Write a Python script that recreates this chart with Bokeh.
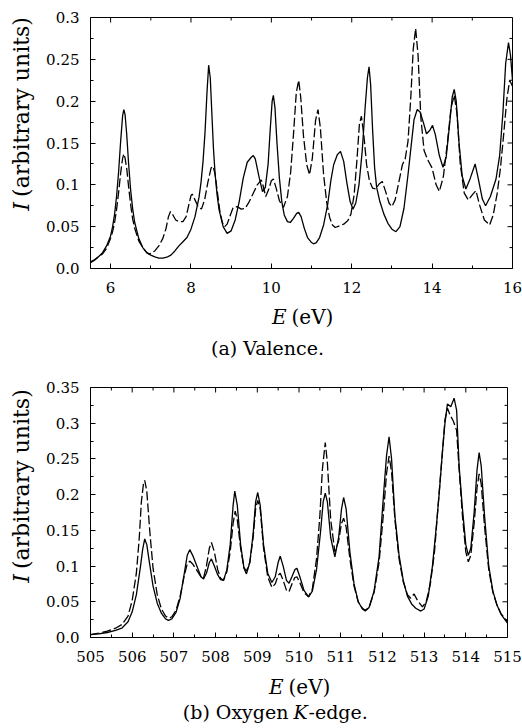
from math import pi
from bokeh.plotting import figure
from bokeh.models import Range1d, FixedTicker
from bokeh.core.properties import value
from bokeh.layouts import column, row
from bokeh.embed import file_html
from bokeh.resources import INLINE

# ---------------- data: (a) valence ----------------
val_solid_E = [5.5, 5.6, 5.7, 5.8, 5.9, 6.0, 6.05, 6.1, 6.15, 6.2, 6.25, 6.3, 6.33, 6.36, 6.4, 6.45, 6.5, 6.55, 6.6, 6.7,
               6.8, 6.9, 7.0, 7.1, 7.2, 7.3, 7.4, 7.5, 7.6, 7.7, 7.8, 7.9, 8.0, 8.1, 8.2, 8.25, 8.3, 8.35, 8.4, 8.44,
               8.48, 8.52, 8.56, 8.6, 8.65, 8.7, 8.8, 8.9, 9.0, 9.1, 9.2, 9.3, 9.4, 9.5, 9.55, 9.6, 9.7, 9.78, 9.85,
               9.92, 9.97, 10.02, 10.05, 10.09, 10.14, 10.2, 10.26, 10.32, 10.4, 10.47, 10.55, 10.63, 10.68, 10.74,
               10.82, 10.9, 11.0, 11.05, 11.12, 11.2, 11.3, 11.4, 11.48, 11.55, 11.64, 11.72, 11.8, 11.88, 11.96,
               12.03, 12.1, 12.18, 12.26, 12.33, 12.39, 12.43, 12.47, 12.52, 12.57, 12.62, 12.7, 12.8, 12.9, 13.0,
               13.1, 13.2, 13.3, 13.4, 13.47, 13.55, 13.63, 13.7, 13.78, 13.86, 13.94, 14.01, 14.08, 14.18, 14.27,
               14.35, 14.43, 14.5, 14.55, 14.6, 14.67, 14.75, 14.84, 14.95, 15.07, 15.15, 15.25, 15.33, 15.45, 15.59,
               15.68, 15.76, 15.83, 15.9, 15.95, 16.0]
val_solid_I = [0.007, 0.010, 0.014, 0.019, 0.027, 0.039, 0.050, 0.065, 0.087, 0.116, 0.152, 0.183, 0.190, 0.184,
               0.161, 0.124, 0.093, 0.071, 0.055, 0.036, 0.025, 0.019, 0.016, 0.014, 0.0125, 0.0125, 0.0135, 0.016,
               0.021, 0.027, 0.032, 0.037, 0.047, 0.062, 0.085, 0.103, 0.128, 0.163, 0.212, 0.243, 0.228, 0.185,
               0.143, 0.113, 0.088, 0.070, 0.050, 0.042, 0.045, 0.058, 0.080, 0.108, 0.127, 0.133, 0.135, 0.131,
               0.108, 0.092, 0.097, 0.125, 0.165, 0.200, 0.207, 0.192, 0.150, 0.108, 0.080, 0.064, 0.056, 0.055,
               0.060, 0.066, 0.067, 0.062, 0.048, 0.037, 0.031, 0.0295, 0.031, 0.037, 0.052, 0.076, 0.105, 0.124,
               0.136, 0.140, 0.128, 0.102, 0.080, 0.071, 0.078, 0.100, 0.140, 0.190, 0.228, 0.241, 0.220, 0.165,
               0.120, 0.097, 0.080, 0.065, 0.054, 0.047, 0.044, 0.050, 0.072, 0.112, 0.143, 0.178, 0.190, 0.187,
               0.175, 0.161, 0.165, 0.171, 0.160, 0.135, 0.121, 0.133, 0.170, 0.205, 0.214, 0.200, 0.150, 0.110,
               0.095, 0.108, 0.125, 0.107, 0.083, 0.075, 0.086, 0.107, 0.135, 0.185, 0.245, 0.270, 0.255, 0.225]

val_dash_E = [5.5, 5.6, 5.7, 5.8, 5.9, 6.0, 6.05, 6.1, 6.15, 6.2, 6.25, 6.3, 6.33, 6.36, 6.4, 6.45, 6.5, 6.55, 6.6, 6.7,
              6.8, 6.9, 6.95, 7.0, 7.1, 7.2, 7.3, 7.38, 7.44, 7.49, 7.55, 7.62, 7.7, 7.8, 7.88, 7.95, 8.0, 8.03, 8.1,
              8.18, 8.26, 8.34, 8.42, 8.5, 8.55, 8.6, 8.66, 8.72, 8.78, 8.84, 8.9, 8.98, 9.05, 9.15, 9.25, 9.35, 9.45,
              9.55, 9.65, 9.75, 9.8, 9.86, 9.93, 10.0, 10.05, 10.12, 10.2, 10.3, 10.4, 10.48, 10.55, 10.62, 10.68,
              10.73, 10.8, 10.88, 10.95, 11.02, 11.1, 11.16, 11.22, 11.3, 11.38, 11.45, 11.52, 11.59, 11.7, 11.8,
              11.9, 11.98, 12.06, 12.13, 12.19, 12.24, 12.3, 12.37, 12.44, 12.52, 12.6, 12.68, 12.76, 12.85, 12.93,
              13.0, 13.08, 13.18, 13.26, 13.33, 13.4, 13.47, 13.53, 13.59, 13.65, 13.72, 13.8, 13.88, 14.0, 14.1,
              14.18, 14.28, 14.38, 14.47, 14.55, 14.62, 14.7, 14.8, 14.9, 15.0, 15.09, 15.18, 15.3, 15.43, 15.52,
              15.62, 15.7, 15.78, 15.86, 15.93, 16.0]
val_dash_I = [0.008, 0.0105, 0.014, 0.0175, 0.024, 0.036, 0.044, 0.055, 0.071, 0.091, 0.114, 0.132, 0.137, 0.132,
              0.120, 0.097, 0.076, 0.059, 0.048, 0.033, 0.025, 0.019, 0.0175, 0.018, 0.021, 0.027, 0.036, 0.048,
              0.062, 0.068, 0.064, 0.058, 0.056, 0.056, 0.062, 0.077, 0.087, 0.089, 0.082, 0.074, 0.071, 0.082,
              0.103, 0.120, 0.122, 0.113, 0.090, 0.068, 0.055, 0.050, 0.053, 0.064, 0.073, 0.074, 0.071, 0.072,
              0.080, 0.090, 0.100, 0.106, 0.098, 0.086, 0.094, 0.105, 0.107, 0.096, 0.081, 0.073, 0.086, 0.115,
              0.160, 0.210, 0.225, 0.205, 0.158, 0.124, 0.112, 0.132, 0.177, 0.190, 0.168, 0.112, 0.078, 0.061,
              0.052, 0.049, 0.051, 0.053, 0.057, 0.065, 0.088, 0.130, 0.172, 0.182, 0.160, 0.124, 0.105, 0.096,
              0.095, 0.101, 0.104, 0.091, 0.078, 0.074, 0.082, 0.105, 0.124, 0.131, 0.152, 0.205, 0.262, 0.287,
              0.255, 0.180, 0.141, 0.131, 0.120, 0.100, 0.092, 0.110, 0.150, 0.192, 0.207, 0.185, 0.125, 0.090,
              0.082, 0.088, 0.093, 0.076, 0.058, 0.052, 0.064, 0.090, 0.120, 0.160, 0.203, 0.225, 0.218]

# ---------------- data: (b) oxygen K-edge ----------------
ox_solid_E = [505.0, 505.2, 505.4, 505.6, 505.75, 505.9, 506.0, 506.1, 506.2, 506.25, 506.3, 506.35, 506.4, 506.5,
              506.6, 506.7, 506.8, 506.87, 506.95, 507.05, 507.15, 507.25, 507.32, 507.38, 507.45, 507.55, 507.65,
              507.71, 507.78, 507.85, 507.9, 507.97, 508.05, 508.12, 508.19, 508.27, 508.35, 508.42, 508.46, 508.52,
              508.6, 508.68, 508.74, 508.82, 508.9, 508.96, 509.01, 509.07, 509.15, 509.25, 509.35, 509.43, 509.5,
              509.55, 509.62, 509.7, 509.76, 509.83, 509.9, 509.95, 510.02, 510.12, 510.23, 510.32, 510.42, 510.52,
              510.58, 510.63, 510.68, 510.76, 510.86, 510.95, 511.02, 511.07, 511.13, 511.22, 511.32, 511.42, 511.52,
              511.59, 511.68, 511.8, 511.92, 512.04, 512.1, 512.16, 512.22, 512.3, 512.4, 512.5, 512.6, 512.7, 512.8,
              512.92, 513.0, 513.1, 513.2, 513.3, 513.36, 513.44, 513.5, 513.56, 513.64, 513.72, 513.78, 513.84,
              513.92, 514.0, 514.06, 514.12, 514.2, 514.27, 514.32, 514.37, 514.45, 514.55, 514.65, 514.75, 514.85,
              515.0]
ox_solid_I = [0.004, 0.005, 0.007, 0.010, 0.013, 0.022, 0.036, 0.060, 0.100, 0.123, 0.138, 0.130, 0.110, 0.072,
              0.048, 0.034, 0.026, 0.024, 0.026, 0.035, 0.055, 0.090, 0.115, 0.123, 0.115, 0.100, 0.085, 0.082,
              0.090, 0.105, 0.110, 0.100, 0.088, 0.081, 0.080, 0.095, 0.130, 0.185, 0.205, 0.185, 0.130, 0.097,
              0.089, 0.105, 0.145, 0.190, 0.203, 0.185, 0.130, 0.090, 0.077, 0.085, 0.105, 0.114, 0.100, 0.080,
              0.076, 0.085, 0.095, 0.097, 0.085, 0.066, 0.057, 0.065, 0.095, 0.150, 0.190, 0.202, 0.190, 0.140,
              0.113, 0.140, 0.180, 0.196, 0.180, 0.120, 0.075, 0.050, 0.040, 0.037, 0.042, 0.065, 0.113, 0.210,
              0.255, 0.281, 0.250, 0.170, 0.115, 0.080, 0.058, 0.047, 0.041, 0.037, 0.040, 0.058, 0.100, 0.160,
              0.200, 0.260, 0.300, 0.327, 0.323, 0.335, 0.318, 0.240, 0.180, 0.130, 0.115, 0.125, 0.175, 0.235,
              0.259, 0.240, 0.170, 0.100, 0.065, 0.045, 0.032, 0.020]

ox_dash_E = [505.0, 505.2, 505.4, 505.6, 505.75, 505.9, 506.0, 506.1, 506.17, 506.22, 506.27, 506.3, 506.35, 506.42,
             506.5, 506.6, 506.7, 506.8, 506.88, 506.95, 507.05, 507.15, 507.25, 507.32, 507.38, 507.45, 507.55,
             507.65, 507.71, 507.78, 507.85, 507.9, 507.97, 508.05, 508.12, 508.19, 508.27, 508.35, 508.42, 508.47,
             508.52, 508.6, 508.68, 508.74, 508.82, 508.9, 508.96, 509.01, 509.07, 509.15, 509.25, 509.35, 509.43,
             509.5, 509.55, 509.62, 509.7, 509.76, 509.83, 509.9, 509.95, 510.02, 510.12, 510.23, 510.32, 510.42,
             510.5, 510.56, 510.63, 510.68, 510.76, 510.86, 510.95, 511.02, 511.07, 511.13, 511.22, 511.32, 511.42,
             511.52, 511.59, 511.68, 511.8, 511.92, 512.02, 512.1, 512.16, 512.22, 512.3, 512.4, 512.5, 512.6,
             512.68, 512.76, 512.84, 512.96, 513.05, 513.15, 513.25, 513.35, 513.44, 513.5, 513.56, 513.62, 513.7,
             513.78, 513.84, 513.92, 514.0, 514.06, 514.12, 514.2, 514.27, 514.32, 514.37, 514.45, 514.55, 514.65,
             514.75, 514.85, 515.0]
ox_dash_I = [0.004, 0.006, 0.009, 0.013, 0.018, 0.030, 0.052, 0.090, 0.140, 0.190, 0.215, 0.220, 0.205, 0.150,
             0.097, 0.060, 0.040, 0.030, 0.027, 0.029, 0.038, 0.058, 0.087, 0.103, 0.107, 0.103, 0.094, 0.085,
             0.083, 0.100, 0.125, 0.133, 0.120, 0.095, 0.083, 0.080, 0.092, 0.120, 0.160, 0.177, 0.165, 0.125,
             0.098, 0.093, 0.105, 0.140, 0.180, 0.192, 0.180, 0.125, 0.085, 0.070, 0.075, 0.087, 0.090, 0.080,
             0.066, 0.064, 0.075, 0.084, 0.085, 0.077, 0.063, 0.057, 0.068, 0.110, 0.170, 0.235, 0.273, 0.245,
             0.165, 0.120, 0.135, 0.160, 0.167, 0.155, 0.110, 0.072, 0.050, 0.041, 0.038, 0.042, 0.063, 0.105,
             0.170, 0.230, 0.254, 0.232, 0.165, 0.110, 0.078, 0.060, 0.055, 0.061, 0.052, 0.043, 0.050, 0.075,
             0.120, 0.195, 0.260, 0.305, 0.321, 0.312, 0.303, 0.290, 0.235, 0.170, 0.120, 0.106, 0.115, 0.160,
             0.210, 0.229, 0.215, 0.155, 0.095, 0.063, 0.045, 0.033, 0.022]

# ---------------- ticks ----------------
val_x_ticks = [6, 8, 10, 12, 14, 16]
val_x_labels = ["6", "8", "10", "12", "14", "16"]
val_x_minor = [7, 9, 11, 13, 15]
val_y_ticks = [0.0, 0.05, 0.1, 0.15, 0.2, 0.25, 0.3]
val_y_labels = ["0.0", "0.05", "0.1", "0.15", "0.2", "0.25", "0.3"]
val_y_minor = [0.025, 0.075, 0.125, 0.175, 0.225, 0.275]

ox_x_ticks = [505, 506, 507, 508, 509, 510, 511, 512, 513, 514, 515]
ox_x_labels = ["505", "506", "507", "508", "509", "510", "511", "512", "513", "514", "515"]
ox_x_minor = [505.5, 506.5, 507.5, 508.5, 509.5, 510.5, 511.5, 512.5, 513.5, 514.5]
ox_y_ticks = [0.0, 0.05, 0.1, 0.15, 0.2, 0.25, 0.3, 0.35]
ox_y_labels = ["0.0", "0.05", "0.1", "0.15", "0.2", "0.25", "0.3", "0.35"]
ox_y_minor = [0.025, 0.075, 0.125, 0.175, 0.225, 0.275, 0.325]

# ---------------- texts ----------------
x_label_parts = [("E", "italic"), ("(eV)", "normal")]
y_label_parts = [("I", "italic"), ("(arbitrary units)", "normal")]
caption_a = [("(a) Valence.", "normal")]
caption_b = [("(b) Oxygen", "normal"), ("K", "italic"), ("-edge.", "normal")]

SERIF = "DejaVu Serif"
LW = 1.3
DASH = "9 3"
MAJ, MIN = 5, 3  # tick lengths (px)
YLAB_W = 40       # width of the strip holding the rotated y label


def style_axis(ax, ticks, minor, labels, standoff):
    ax.ticker = FixedTicker(ticks=ticks, minor_ticks=minor)
    ax.axis_line_color = None
    ax.major_tick_in = MAJ
    ax.major_tick_out = 0
    ax.minor_tick_in = MIN
    ax.minor_tick_out = 0
    ax.major_tick_line_color = "black"
    ax.minor_tick_line_color = "black"
    ax.major_label_overrides = dict(zip(ticks, labels))
    ax.major_label_text_font = SERIF
    ax.major_label_text_font_size = "15px"
    ax.major_label_text_color = "black"
    ax.major_label_standoff = standoff


def main_plot(xr, yr, fw, fh, mbl, mbt, mbr, mbb, xt, xl, xm, yt, yl, ym, sx, sy, dx, dy):
    p = figure(x_range=Range1d(*xr), y_range=Range1d(*yr), frame_width=fw, frame_height=fh,
               min_border_left=mbl, min_border_top=mbt, min_border_right=mbr, min_border_bottom=mbb,
               toolbar_location=None, output_backend="svg")
    p.grid.visible = False
    p.outline_line_color = "black"
    p.outline_line_width = 1
    p.outline_line_alpha = 1
    p.background_fill_color = "white"
    p.border_fill_color = "white"
    style_axis(p.xaxis[0], xt, xm, xl, 13)
    style_axis(p.yaxis[0], yt, ym, yl, 11)

    # mirrored inward ticks on the top and right edges
    ky = (yr[1] - yr[0]) / fh
    kx = (xr[1] - xr[0]) / fw
    p.segment(x0=xt, y0=[yr[1]] * len(xt), x1=xt, y1=[yr[1] - MAJ * ky] * len(xt), line_color="black")
    p.segment(x0=xm, y0=[yr[1]] * len(xm), x1=xm, y1=[yr[1] - MIN * ky] * len(xm), line_color="black")
    p.segment(x0=[xr[1]] * len(yt), y0=yt, x1=[xr[1] - MAJ * kx] * len(yt), y1=yt, line_color="black")
    p.segment(x0=[xr[1]] * len(ym), y0=ym, x1=[xr[1] - MIN * kx] * len(ym), y1=ym, line_color="black")

    p.line(dx, dy, line_color="black", line_width=LW, line_dash=DASH)
    p.line(sx, sy, line_color="black", line_width=LW)
    return p


def text_canvas(w, h):
    t = figure(width=w, height=h, x_range=Range1d(0, w), y_range=Range1d(0, h),
               min_border=0, toolbar_location=None, output_backend="svg",
               x_axis_type=None, y_axis_type=None)
    t.grid.visible = False
    t.outline_line_color = None
    t.background_fill_color = "white"
    t.border_fill_color = "white"
    return t


def put(t, h, text, x, py, align, style, size, angle=0.0):
    # py is measured from the top of the strip
    t.text(x=[x], y=[h - py], text=[text], text_align=align, text_baseline="middle",
           text_font=value(SERIF), text_font_size=value(size), text_font_style=style,
           text_color="black", angle=angle)


def ylabel_strip(h, mid_x, join_y):
    t = text_canvas(YLAB_W, h)
    (i_txt, i_sty), (r_txt, r_sty) = y_label_parts
    put(t, h, i_txt, mid_x, join_y + 3, "right", i_sty, "22px", pi / 2)
    put(t, h, r_txt, mid_x, join_y - 3, "left", r_sty, "22px", pi / 2)
    return t


def bottom_strip(w, h, xlab_anchor, xlab_mid, cap_items, cap_mid):
    t = text_canvas(w, h)
    (e_txt, e_sty), (u_txt, u_sty) = x_label_parts
    put(t, h, e_txt, xlab_anchor - 2, xlab_mid, "right", e_sty, "20px")
    put(t, h, u_txt, xlab_anchor + 3, xlab_mid, "left", u_sty, "20px")
    for (txt, sty), (x, align) in cap_items:
        put(t, h, txt, x, cap_mid, align, sty, "19px")
    return t


# ---- panel (a): main plot 298 px tall, text strip 62 px ----
m1 = main_plot((5.5, 16), (0, 0.3), 422, 251, 90 - YLAB_W, 17, 10, 30,
               val_x_ticks, val_x_labels, val_x_minor, val_y_ticks, val_y_labels, val_y_minor,
               val_solid_E, val_solid_I, val_dash_E, val_dash_I)
y1 = ylabel_strip(298, 21, 216)
b1 = bottom_strip(522, 62, 288, 316 - 298, [(caption_a[0], (267, "center"))], 347 - 298)

# ---- panel (b): main plot 307 px tall (page y 360..667), text strip 61 px ----
m2 = main_plot((505, 515), (0, 0.35), 417, 250, 90 - YLAB_W, 27, 15, 30,
               ox_x_ticks, ox_x_labels, ox_x_minor, ox_y_ticks, ox_y_labels, ox_y_minor,
               ox_solid_E, ox_solid_I, ox_dash_E, ox_dash_I)
y2 = ylabel_strip(307, 21, 586 - 360)
b2 = bottom_strip(522, 61, 285, 686 - 667,
                  [(caption_b[0], (288, "right")), (caption_b[1], (293, "left")), (caption_b[2], (308, "left"))],
                  711 - 667)

layout = column(row(y1, m1), b1, row(y2, m2), b2)
open("out.html", "w").write(file_html(layout, INLINE))
